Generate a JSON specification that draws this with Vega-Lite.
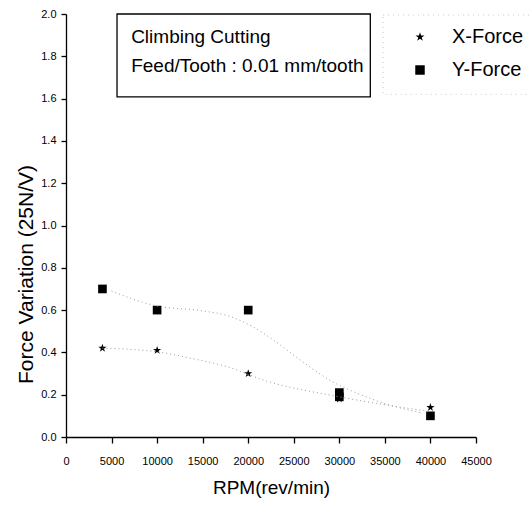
{
  "$schema": "https://vega.github.io/schema/vega-lite/v6.json",
  "width": 410,
  "height": 423,
  "autosize": {"type": "none"},
  "padding": {"left": 66, "top": 14, "right": 54, "bottom": 72},
  "background": "white",
  "config": {
    "view": {"stroke": null},
    "font": "Liberation Sans",
    "axis": {"domainColor": "black", "labelColor": "black", "titleColor": "black", "grid": false, "labelFont": "Liberation Sans", "titleFont": "Liberation Sans", "titleFontWeight": "normal", "domainWidth": 1.3}
  },
  "datasets": {
    "points": [
      {"rpm": 4000, "force": 0.42, "series": "X-Force"},
      {"rpm": 10000, "force": 0.41, "series": "X-Force"},
      {"rpm": 20000, "force": 0.30, "series": "X-Force"},
      {"rpm": 30000, "force": 0.18, "series": "X-Force"},
      {"rpm": 40000, "force": 0.14, "series": "X-Force"},
      {"rpm": 4000, "force": 0.70, "series": "Y-Force"},
      {"rpm": 10000, "force": 0.60, "series": "Y-Force"},
      {"rpm": 20000, "force": 0.60, "series": "Y-Force"},
      {"rpm": 30000, "force": 0.21, "series": "Y-Force"},
      {"rpm": 30000, "force": 0.19, "series": "Y-Force"},
      {"rpm": 40000, "force": 0.10, "series": "Y-Force"}
    ],
    "trend": [
      {"rpm": 4000, "force": 0.42, "series": "X-Force"},
      {"rpm": 10000, "force": 0.403, "series": "X-Force"},
      {"rpm": 13600, "force": 0.373, "series": "X-Force"},
      {"rpm": 17700, "force": 0.332, "series": "X-Force"},
      {"rpm": 22000, "force": 0.265, "series": "X-Force"},
      {"rpm": 30000, "force": 0.19, "series": "X-Force"},
      {"rpm": 40000, "force": 0.12, "series": "X-Force"},
      {"rpm": 5000, "force": 0.69, "series": "Y-Force"},
      {"rpm": 9900, "force": 0.62, "series": "Y-Force"},
      {"rpm": 14700, "force": 0.598, "series": "Y-Force"},
      {"rpm": 17700, "force": 0.574, "series": "Y-Force"},
      {"rpm": 20550, "force": 0.52, "series": "Y-Force"},
      {"rpm": 22750, "force": 0.459, "series": "Y-Force"},
      {"rpm": 25700, "force": 0.364, "series": "Y-Force"},
      {"rpm": 29300, "force": 0.26, "series": "Y-Force"},
      {"rpm": 31950, "force": 0.207, "series": "Y-Force"},
      {"rpm": 34850, "force": 0.16, "series": "Y-Force"},
      {"rpm": 38900, "force": 0.115, "series": "Y-Force"}
    ],
    "box": [{"x1": 5600, "x2": 33400, "y1": 1.608, "y2": 2.0}],
    "legendbox": [{"x1": 34800, "x2": 51500, "y1": 1.62, "y2": 1.995}],
    "notes": [
      {"x": 7150, "y": 1.863, "text": "Climbing Cutting"},
      {"x": 7150, "y": 1.726, "text": "Feed/Tooth : 0.01 mm/tooth"}
    ]
  },
  "layer": [
    {
      "data": {"name": "points"},
      "mark": {"type": "point", "filled": true, "opacity": 1, "color": "black", "size": 75},
      "encoding": {
        "x": {
          "field": "rpm", "type": "quantitative",
          "title": "RPM(rev/min)",
          "scale": {"domain": [0, 45000], "nice": false},
          "axis": {
            "values": [0, 2500, 5000, 7500, 10000, 12500, 15000, 17500, 20000, 22500, 25000, 27500, 30000, 32500, 35000, 37500, 40000, 42500, 45000],
            "labelExpr": "datum.value % 5000 === 0 ? format(datum.value, 'd') : ''",
            "ticks": true,
            "tickSize": {"condition": {"test": "datum.value % 5000 === 0", "value": 6}, "value": 4},
            "tickColor": "black",
            "tickWidth": 1.3,
            "labelOverlap": false,
            "labelFlush": false,
            "labelFontSize": 11,
            "labelPadding": 12,
            "titleFontSize": 19,
            "titlePadding": 12
          }
        },
        "y": {
          "field": "force", "type": "quantitative",
          "title": "Force Variation (25N/V)",
          "scale": {"domain": [0, 2], "nice": false},
          "axis": {
            "values": [0, 0.1, 0.2, 0.3, 0.4, 0.5, 0.6, 0.7, 0.8, 0.9, 1.0, 1.1, 1.2, 1.3, 1.4, 1.5, 1.6, 1.7, 1.8, 1.9, 2.0],
            "labelExpr": "round(datum.value * 10) % 2 === 0 ? format(datum.value, '.1f') : ''",
            "ticks": true,
            "tickSize": {"condition": {"test": "round(datum.value * 10) % 2 === 0", "value": 5}, "value": 3},
            "tickColor": "black",
            "tickWidth": 1.3,
            "labelOverlap": false,
            "labelFlush": false,
            "labelFontSize": 11,
            "labelPadding": 5,
            "titleFontSize": 21,
            "titlePadding": 4,
            "titleY": 260
          }
        },
        "shape": {
          "field": "series", "type": "nominal",
          "scale": {"domain": ["X-Force", "Y-Force"], "range": ["M0,-1L0.2245,-0.309L0.951,-0.309L0.3633,0.118L0.5878,0.809L0,0.382L-0.5878,0.809L-0.3633,0.118L-0.951,-0.309L-0.2245,-0.309Z", "square"]},
          "legend": {
            "title": null,
            "orient": "none",
            "legendX": 344,
            "legendY": 13,
            "padding": 0,
            "labelFontSize": 20,
            "labelFont": "Liberation Sans",
            "labelColor": "black",
            "labelOffset": 22,
            "rowPadding": 13,
            "symbolSize": 90,
            "symbolFillColor": "black",
            "symbolStrokeWidth": 0
          }
        }
      }
    },
    {
      "data": {"name": "box"},
      "mark": {"type": "rect", "fill": null, "stroke": "black", "strokeWidth": 1.3},
      "encoding": {
        "x": {"field": "x1", "type": "quantitative"},
        "x2": {"field": "x2"},
        "y": {"field": "y1", "type": "quantitative"},
        "y2": {"field": "y2"}
      }
    },
    {
      "data": {"name": "legendbox"},
      "mark": {"type": "rect", "fill": null, "stroke": "#bbbbbb", "strokeWidth": 0.8, "strokeDash": [1, 4]},
      "encoding": {
        "x": {"field": "x1", "type": "quantitative"},
        "x2": {"field": "x2"},
        "y": {"field": "y1", "type": "quantitative"},
        "y2": {"field": "y2"}
      }
    },
    {
      "data": {"name": "notes"},
      "mark": {"type": "text", "align": "left", "baseline": "alphabetic", "fontSize": 19, "font": "Liberation Sans", "color": "black"},
      "encoding": {
        "x": {"field": "x", "type": "quantitative"},
        "y": {"field": "y", "type": "quantitative"},
        "text": {"field": "text"}
      }
    },
    {
      "data": {"name": "trend"},
      "mark": {"type": "line", "interpolate": "monotone", "color": "#9a9a9a", "strokeWidth": 1, "strokeDash": [1, 3]},
      "encoding": {
        "x": {"field": "rpm", "type": "quantitative"},
        "y": {"field": "force", "type": "quantitative"},
        "detail": {"field": "series"}
      }
    }
  ]
}
